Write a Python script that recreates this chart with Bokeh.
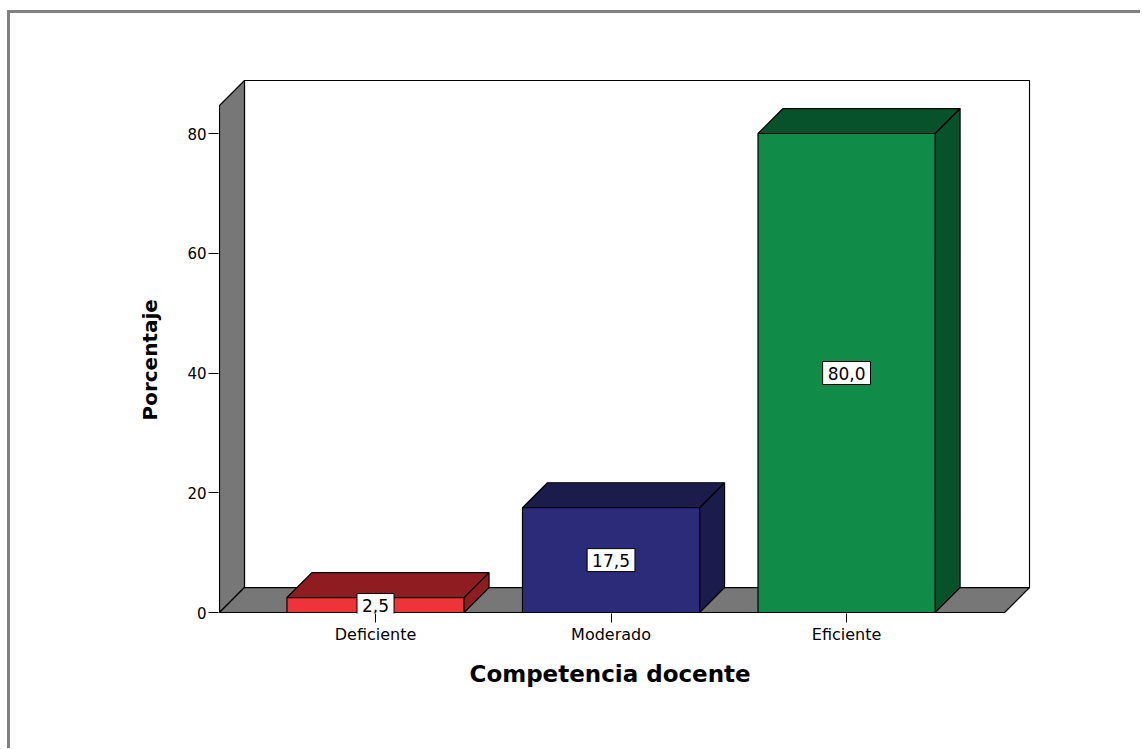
from bokeh.plotting import figure
from bokeh.models import FixedTicker, Label, Range1d, Title
from bokeh.embed import file_html
from bokeh.resources import INLINE

# ---- data ----
categories = ["Deficiente", "Moderado", "Eficiente"]
percentages = [2.5, 17.5, 80.0]
front_colors = ["#ef3439", "#2b2b7a", "#118c48"]
dark_colors = ["#8e1c20", "#1c1c4c", "#07522a"]
y_ticks = [0, 20, 40, 60, 80]
x_title = "Competencia docente"
y_title = "Porcentaje"

# ---- 3D geometry (data units) ----
half_w = 0.376
dx = 0.106
dy = 4.17
x_wall = -0.6624
x_right = 2.671
top_back = 88.85
top_front = top_back - dy

p = figure(
    output_backend="svg", toolbar_location=None,
    frame_width=812, frame_height=534,
    min_border_left=208, min_border_top=66, min_border_right=110, min_border_bottom=135,
    x_range=Range1d(-0.6667, 2.781), y_range=Range1d(-0.167, 89.02),
    styles={"border-top": "3px solid #808080", "border-left": "3px solid #808080",
            "margin-top": "10px", "margin-left": "7px"},
)
p.background_fill_color = "white"
p.border_fill_color = "white"
p.outline_line_color = None
p.grid.visible = False

# back wall
p.patch([x_wall + dx, x_right + dx, x_right + dx, x_wall + dx],
        [dy, dy, top_back, top_back], fill_color="white", line_color="black", line_width=1.2)
# left wall
p.patch([x_wall, x_wall, x_wall + dx, x_wall + dx],
        [0, top_front, top_back, dy], fill_color="#777777", line_color="black", line_width=1.2)
# floor
p.patch([x_wall, x_right, x_right + dx, x_wall + dx],
        [0, 0, dy, dy], fill_color="#777777", line_color="black", line_width=1.2)

for i, (v, fc, dc) in enumerate(zip(percentages, front_colors, dark_colors)):
    l, r = i - half_w, i + half_w
    p.patch([r, r + dx, r + dx, r], [0, dy, v + dy, v], fill_color=dc, line_color="black", line_width=1.2)
    p.patch([l, r, r + dx, l + dx], [v, v, v + dy, v + dy], fill_color=dc, line_color="black", line_width=1.2)
    p.quad(left=l, right=r, bottom=0, top=v, fill_color=fc, line_color="black", line_width=1.2)

for i, v in enumerate(percentages):
    p.add_layout(Label(x=i, y=v / 2, text=f"{v:.1f}".replace(".", ","), text_align="center",
                       text_baseline="middle", text_font="DejaVu Sans", text_font_size="17px",
                       text_color="black", background_fill_color="white",
                       border_line_color="black", border_line_width=1, padding=5))

# axes
p.yaxis.ticker = FixedTicker(ticks=y_ticks)
p.yaxis.axis_line_color = None
p.yaxis.major_tick_out = 10
p.yaxis.major_tick_in = 0
p.yaxis.minor_tick_line_color = None
p.yaxis.major_tick_line_color = "black"
p.yaxis.major_label_standoff = 2
p.yaxis.major_label_text_font = "DejaVu Sans"
p.yaxis.major_label_text_font_size = "15px"
p.yaxis.major_label_text_color = "black"

p.xaxis.ticker = FixedTicker(ticks=list(range(len(categories))))
p.xaxis.major_label_overrides = {i: c for i, c in enumerate(categories)}
p.xaxis.axis_line_color = None
p.xaxis.major_tick_out = 9
p.xaxis.major_tick_in = 0
p.xaxis.minor_tick_line_color = None
p.xaxis.major_tick_line_color = "black"
p.xaxis.major_label_standoff = 2
p.xaxis.major_label_text_font = "DejaVu Sans"
p.xaxis.major_label_text_font_size = "16px"
p.xaxis.major_label_text_color = "black"

p.add_layout(Title(text=x_title, align="left", offset=251, standoff=25,
                   text_font="DejaVu Sans", text_font_style="bold", text_font_size="23px",
                   text_color="black"), "below")
p.add_layout(Title(text=y_title, align="left", offset=193, standoff=45,
                   text_font="DejaVu Sans", text_font_style="bold", text_font_size="20px",
                   text_color="black"), "left")

open("out.html", "w").write(file_html(p, INLINE))
